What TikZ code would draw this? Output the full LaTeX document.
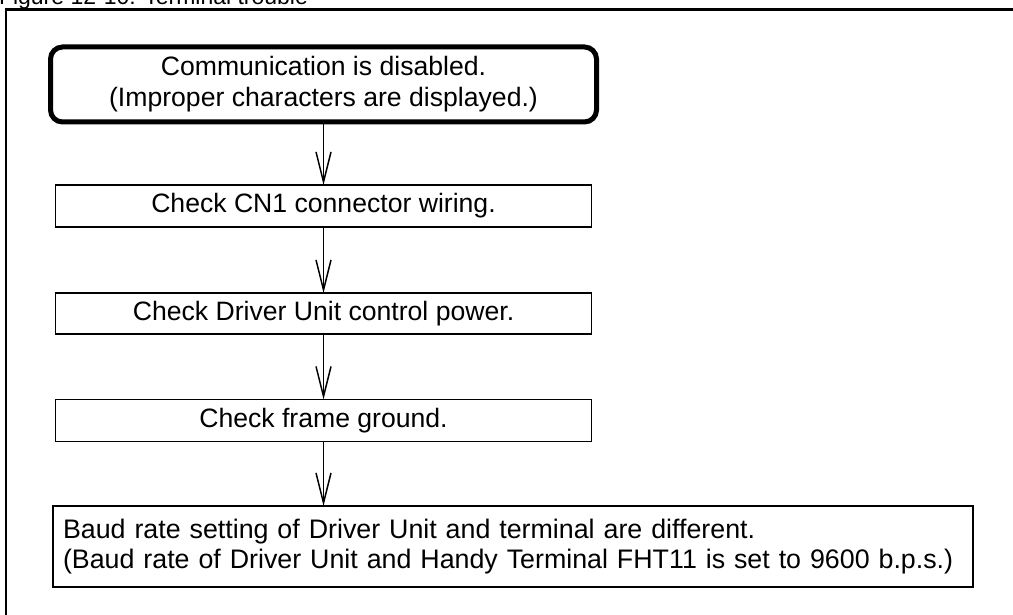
\documentclass[tikz,border=0pt]{standalone}
\usepackage{fontspec}
\setmainfont{Liberation Sans}
\usetikzlibrary{arrows.meta}
\begin{document}
\begin{tikzpicture}[x=1pt,y=-1pt,
  every node/.style={inner sep=0pt, outer sep=0pt, font=\fontsize{26.6}{31}\selectfont},
  stepbox/.style={draw=black, line width=1.8pt, minimum width=536pt, fill=white},
  startbox/.style={draw=black, line width=5pt, rounded corners=12pt, minimum width=546pt, minimum height=75pt, align=center},
  arr/.style={draw=black, line width=1.5pt, -{Straight Barb[length=30pt,width=15pt,line width=1.5pt]}}
]
\useasboundingbox (0,0) rectangle (1013,615);
\clip (0,0) rectangle (1013,615);
\fill[white] (0,0) rectangle (1013,615);
% outer frame
\draw[line width=2.5pt] (1100,9.5) -| (6,700);
% title (cut off at top, as in the reference)
\node[anchor=base west, font=\fontsize{23}{27}\selectfont] (title) at (-1,4.5) {Figure 12-10: Terminal trouble};
% boxes
\node[startbox] (top) at (323.5,84.5) {Communication is disabled.\\(Improper characters are displayed.)};
\node[stepbox, minimum height=42pt] (b2) at (323.5,206) {Check CN1 connector wiring.};
\node[stepbox, minimum height=41pt] (b3) at (323.5,313.5) {Check Driver Unit control power.};
\node[stepbox, minimum height=42pt] (b4) at (323.5,420.5) {Check frame ground.};
\node[draw=black, line width=1.8pt, fill=white, anchor=north west, minimum width=920pt, minimum height=81pt,
      text width=900pt, align=left, inner xsep=9pt, font=\fontsize{26.8}{30}\selectfont] (b5) at (53,506)
  {Baud rate setting of Driver Unit and terminal are different.\\(Baud rate of Driver Unit and Handy Terminal FHT11 is set to 9600 b.p.s.)};
% connectors
\draw[arr] (top.south) -- (b2.north);
\draw[arr] (b2.south) -- (b3.north);
\draw[arr] (b3.south) -- (b4.north);
\draw[arr] (b4.south) -- (b4.south |- b5.north);
\end{tikzpicture}
\end{document}
